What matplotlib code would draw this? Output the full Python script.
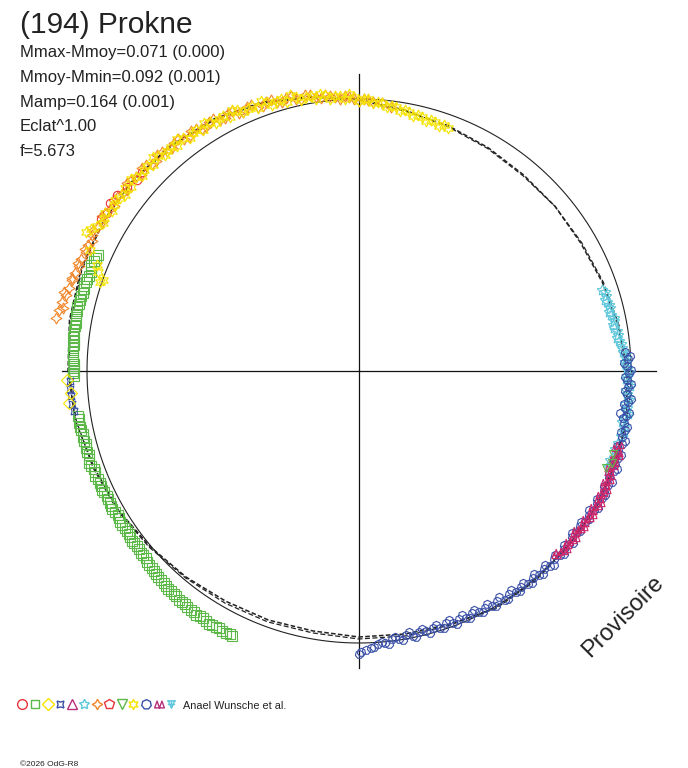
import numpy as np
import matplotlib
matplotlib.use("Agg")
import matplotlib.pyplot as plt
from matplotlib.path import Path

plt.rcParams['font.family'] = ['Liberation Sans', 'DejaVu Sans']

# ---------------- texts ----------------
TITLE = "(194) Prokne"
STATS = ["Mmax-Mmoy=0.071 (0.000)", "Mmoy-Mmin=0.092 (0.001)",
         "Mamp=0.164 (0.001)", "Eclat^1.00", "f=5.673"]
AUTHORS = "Anael Wunsche et al."
COPYRIGHT = "\u00a92026 OdG-R8"
WATERMARK = "Provisoire"

# ---------------- geometry of the polar diagram (plot units) ----------------
REF_RADIUS = 272
AXIS_ARM = 297

# ---------------- fitted curves (phase in degrees, radius) ----------------
FIT_PHASE = [0, 10, 20, 30, 40, 50, 60, 70, 80, 90, 100, 110, 120, 130, 140, 150, 160, 170,
             180, 190, 200, 210, 220, 230, 240, 250, 260, 270, 280, 290, 300, 310, 320, 330,
             340, 350, 360]
FIT_R = [271, 264, 261, 258, 256, 256, 256, 259, 263, 268, 272, 273, 273, 273, 274, 274, 269, 267,
         266, 264, 265, 266, 269, 273, 278, 282, 288, 291, 294, 296, 297, 295, 293, 290,
         285, 278, 271]
FIT2_R = [272, 265, 260, 257, 255, 256, 257, 260, 264, 268, 271, 272, 274, 272, 273, 273, 270, 269,
          268, 266, 267, 268, 270, 274, 279, 283, 287, 290, 293, 295, 296, 296, 294, 291,
          286, 279, 272]

# ---------------- observation sessions ----------------
GREEN_PHASE = [294, 292.5, 291, 289.5, 288, 286.5, 285, 283.5, 282, 280.5, 279, 277.5, 276, 274.5,
               273, 271.5, 270, 269,
               261, 259.5, 258, 256.5, 255, 253.5, 252, 250.5, 249, 247.5, 246, 244.5, 243, 241.5,
               240, 238.5, 237, 235.5, 234, 232.5, 231, 229.5, 228, 226.5, 225, 223.5, 222, 220.5,
               219, 217.5, 216, 214.5, 213, 211.5, 210, 208.5, 207, 205.5,
               293.2, 291.7, 290.2, 288.7, 287.2, 285.7, 284.2, 282.7, 281.2, 279.7, 278.2, 276.7,
               275.2, 273.7, 272.2, 270.7, 269.5,
               260.2, 258.7, 257.2, 255.7, 254.2, 252.7, 251.2, 249.7, 248.2, 246.7, 245.2, 243.7,
               242.2, 240.7, 239.2, 237.7, 236.2, 234.7, 233.2, 231.7, 230.2, 228.7, 227.2, 225.7,
               224.2, 222.7, 221.2, 219.7, 218.2, 216.7, 215.2, 213.7, 212.2, 210.7, 209.2, 207.7,
               206.2]
GREEN_R = [286, 287, 287, 286, 287, 287, 288, 288, 288, 288, 288, 287, 287, 287,
           286, 285, 285, 285,
           285, 285, 284, 284, 283, 284, 284, 284, 283, 283, 282, 282, 282, 282,
           282, 282, 282, 282, 283, 283, 283, 284, 285, 286, 287, 288, 289, 289,
           290, 291, 292, 292, 292, 293, 293, 293, 294, 294,
           286, 288, 286, 287, 288, 287, 288, 289, 288, 287, 288, 288,
           286, 287, 286, 285, 286,
           284, 285, 283, 284, 284, 283, 285, 283, 284, 282, 283, 281,
           282, 283, 281, 283, 282, 282, 284, 283, 284, 284, 286, 286,
           288, 288, 290, 290, 291, 291, 292, 293, 292, 294, 293, 294,
           293]

ASTROID_PHASE = [268, 266.5, 265, 263.5, 262]
ASTROID_R = [289, 290, 289, 289, 288]

DIAMOND_PHASE = [268.2, 265.6, 263.7]
DIAMOND_R = [292, 289, 292]

ORANGE_PHASE = [280, 281.5, 283, 284.5, 286, 287.5, 289, 290.5, 292, 293.5, 295,
                297, 299, 301, 303, 305, 307, 309, 311, 313, 315,
                317, 319, 321, 323, 325, 327, 329, 331, 333, 335,
                337, 339, 341, 343, 345, 347, 349, 351, 353, 355,
                357, 359, 1, 3, 5, 7,
                282, 285, 288, 291, 294, 296, 298, 300, 302, 304,
                306, 308, 310, 312, 314, 316, 318, 320, 322, 324,
                326, 328, 330, 332, 334, 336, 338, 340, 342, 344,
                346, 348, 350, 352, 354, 356, 358, 0, 2]
ORANGE_R = [308, 306, 305, 303, 302, 301, 300, 299, 300, 298, 299,
            300, 298, 300, 297, 299, 296, 298, 295, 297, 293,
            296, 292, 294, 290, 293, 289, 291, 287, 289, 285,
            287, 283, 285, 281, 283, 279, 281, 277, 278, 275,
            275, 272, 272, 269, 269, 266,
            303, 305, 302, 301, 300, 297, 301, 297, 299, 295,
            298, 294, 297, 293, 296, 292, 295, 291, 294, 289,
            292, 288, 291, 286, 289, 284, 287, 282, 285, 280,
            283, 278, 280, 276, 277, 273, 274, 270, 271]

RED_PHASE = [300.5, 302, 304, 306, 308.4, 310.7, 312.5]
RED_R = [299, 297.5, 300, 299.5, 296.5, 293, 295]

YELLOW_PHASE = [297, 299, 300, 302, 303, 305, 306, 308, 309, 311, 312,
                314, 315, 317, 318, 320, 321, 323, 324, 326, 327,
                329, 330, 332, 333, 335, 336, 338, 339, 341, 342,
                344, 345, 347, 348, 350, 351, 353, 354, 356, 357,
                359, 0, 2, 3, 5, 6, 8, 9, 11, 12,
                14, 15, 17, 18, 20,
                294.2, 292, 290.8, 289.6, 289,
                298, 301, 304, 307, 310, 313, 316, 319, 322, 325,
                328, 331, 334, 337, 340, 343, 346, 349, 352, 355,
                358, 1, 4, 7, 10, 13, 16, 19]
YELLOW_R = [306, 300, 296, 299, 294, 298, 295, 297, 293, 296, 292,
            295, 291, 294, 290, 293, 289, 292, 288, 291, 287,
            290, 286, 289, 285, 288, 284, 286, 282, 284, 280,
            283, 279, 281, 277, 279, 275, 278, 274, 276, 272,
            274, 270, 272, 268, 269, 265, 267, 263, 264, 261,
            262, 259, 260, 258, 259,
            295, 283, 279, 272, 274,
            303, 298, 296, 293, 298, 294, 297, 292, 295, 290,
            292, 288, 290, 285, 287, 282, 284, 279, 280, 276,
            277, 272, 270, 267, 265, 263, 261, 260]

CYAN_PHASE = [71.5, 73, 74.5, 76, 77.5, 79, 80.5, 82, 83.5, 85, 86.5, 88, 89.5, 91, 92.5,
              94, 95.5, 97, 98.5, 100, 102, 104, 107, 109.5, 111,
              72.2, 73.8, 75.2, 76.8, 78.2, 79.8, 81.2, 82.8, 84.2, 85.8, 87.2, 88.8,
              90.2, 91.8, 93.2, 94.8, 96.2, 97.8, 99.2, 101, 103, 105.5, 108, 110.5]
CYAN_R = [256, 258, 257, 259, 258, 260, 259, 262, 262, 264, 266, 266, 268, 268, 269,
          268, 270, 268, 270, 269, 271, 270, 268, 266, 268,
          258, 256, 259, 257, 260, 258, 261, 260, 263, 265, 267, 267,
          270, 267, 271, 269, 272, 271, 272, 268, 272, 269, 271, 269]

BLUE_PHASE = [86, 87.5, 89, 90.5, 92, 93.5, 95, 96.5, 98, 99.5,
              101, 102.5, 104, 105.5, 107, 108.5, 110, 111.5, 113, 114.5,
              116, 117.5, 119, 120.5, 122, 123.5, 125, 126.5, 128, 129.5,
              131, 132.5, 134, 135.5, 137, 138.5, 140, 141.5, 143, 144.5,
              146, 147.5, 149, 150.5, 152, 153.5, 155, 156.5, 158, 159.5,
              161, 162.5, 164, 165.5, 167, 168.5, 170, 171.5, 173, 174.5,
              176, 177.5, 178.5, 179.5, 180, 99.1,
              86.8, 88.2, 89.8, 91.2, 92.8, 94.2, 95.8, 97.2, 98.8, 100.2,
              101.8, 103.2, 104.8, 106.2, 107.8, 109.2, 110.8, 112.2, 113.8, 115.2,
              116.8, 118.2, 119.8, 121.2, 122.8, 124.2, 125.8, 127.2, 128.8, 130.2,
              131.8, 133.2, 134.8, 136.2, 137.8, 139.2, 140.8, 142.2, 143.8, 145.2,
              146.8, 148.2, 149.8, 151.2, 152.8, 154.2, 155.8, 157.2, 158.8, 160.2,
              161.8, 163.2, 164.8, 166.2, 167.8, 169.2, 170.8, 172.2, 173.8, 175.2,
              176.8]
BLUE_R = [267, 269, 268, 270, 268, 270, 269, 271, 269, 271,
          270, 272, 271, 273, 271, 273, 272, 274, 272, 274,
          273, 274, 272, 273, 271, 272, 270, 271, 270, 272,
          271, 273, 271, 273, 271, 272, 270, 272, 270, 271,
          269, 271, 268, 270, 268, 269, 267, 269, 267, 269,
          267, 269, 267, 269, 268, 270, 268, 271, 270, 273,
          274, 277, 279, 281, 283, 264,
          271, 265, 272, 266, 272, 267, 273, 267, 273, 268,
          274, 269, 275, 269, 275, 270, 276, 270, 276, 271,
          276, 270, 275, 269, 274, 268, 273, 268, 274, 269,
          275, 269, 275, 269, 274, 268, 274, 268, 273, 267,
          273, 266, 272, 266, 271, 265, 271, 265, 271, 265,
          271, 265, 271, 266, 272, 266, 273, 268, 275, 272,
          276]

MAGENTA_PHASE = [106, 107.5, 109, 110.5, 112, 113.5, 115, 116.5, 118, 119.5,
                 121, 122.5, 124, 125.5, 127, 128.5, 130, 131.5, 133,
                 106.8, 108.2, 109.8, 111.2, 112.8, 114.2, 115.8, 117.2, 118.8,
                 120.2, 121.8, 123.2, 124.8, 126.2, 127.8, 129.2, 130.8, 132.2]
MAGENTA_R = [270, 272, 269, 271, 270, 273, 271, 273, 272, 274,
             272, 273, 271, 272, 270, 272, 271, 272, 270,
             268, 273, 271, 268, 272, 270, 274, 271, 275,
             271, 274, 270, 273, 269, 273, 270, 273, 269]

GTRI_PHASE = [108, 110, 111.5]
GTRI_R = [267, 269, 266]

# ---------------- colours / markers ----------------
RED = '#E8343C'
GREEN = '#5CB848'
YELLOW = '#F5E400'
BLUE = '#3A50A8'
MAGENTA = '#B8307C'
CYAN = '#60C8DC'
ORANGE = '#F0862A'
CRIMSON = '#D02468'
INK = '#222222'

dtri = Path([(-1, -0.7), (-0.5, 0.7), (0, -0.7), (-1, -0.7),
             (0, -0.7), (0.5, 0.7), (1, -0.7), (0, -0.7)],
            [Path.MOVETO, Path.LINETO, Path.LINETO, Path.CLOSEPOLY,
             Path.MOVETO, Path.LINETO, Path.LINETO, Path.CLOSEPOLY])
anchor = Path([(-1, 0.8), (1, 0.8), (-0.7, 0.8), (0, -0.8), (0.7, 0.8),
               (-0.8, 0.0), (0.8, 0.0), (0, 0.8), (0, -0.8)],
              [Path.MOVETO, Path.LINETO, Path.MOVETO, Path.LINETO, Path.LINETO,
               Path.MOVETO, Path.LINETO, Path.MOVETO, Path.LINETO])

LEGEND_MARKERS = ['o', 's', 'D', (4, 1, 45), '^', (5, 1, 0), (4, 1, 0), 'p', 'v',
                  (6, 1, 0), (7, 0, 0), dtri, anchor]
LEGEND_COLORS = [RED, GREEN, YELLOW, BLUE, MAGENTA, CYAN, ORANGE, RED, GREEN,
                 YELLOW, BLUE, MAGENTA, CYAN]
LEGEND_X = [22, 35, 48, 60, 72, 84, 97, 109, 122, 133, 146, 159, 171]
LEGEND_SIZES = [7, 5.5, 6, 7, 6.5, 7.5, 7.5, 7, 6.5, 7.5, 7, 7, 6.5]

# ---------------- figure ----------------
W, H = 688, 768
fig = plt.figure(figsize=(W / 100, H / 100), dpi=100)
fig.patch.set_facecolor('white')

cx, cy = 359, 371
ax = fig.add_axes([(cx - AXIS_ARM) / W, (H - cy - AXIS_ARM) / H,
                   2 * AXIS_ARM / W, 2 * AXIS_ARM / H], projection='polar')
ax.set_theta_zero_location('N')
ax.set_theta_direction(-1)
ax.set_ylim(0, AXIS_ARM)
ax.set_axis_off()

# cross
for a in (0, 90, 180, 270):
    ax.plot(np.radians([a, a]), [0, AXIS_ARM], color='#111111', lw=0.9, zorder=1,
            clip_on=False)
# reference circle
tt = np.linspace(0, 2 * np.pi, 721)
ax.plot(tt, np.full_like(tt, REF_RADIUS), color=INK, lw=0.8, zorder=1)

# fitted curves
ax.plot(np.radians(FIT_PHASE), FIT_R, color=INK, lw=1.1, ls=(0, (3, 1.5)), zorder=1.5)
ax.plot(np.radians(FIT_PHASE), FIT2_R, color=INK, lw=0.9, ls=(0, (4, 2)), zorder=1.5)


def sess(ph, r, marker, color, ms, z=2, mew=0.8):
    ax.plot(np.radians(ph), r, ls='none', marker=marker, ms=ms, mfc='none',
            mec=color, mew=mew, zorder=z, clip_on=False)


sess(GREEN_PHASE, GREEN_R, 's', GREEN, 6.5)
sess(ASTROID_PHASE, ASTROID_R, (4, 1, 45), BLUE, 7)
sess(DIAMOND_PHASE, DIAMOND_R, 'D', YELLOW, 6)
sess(ORANGE_PHASE, ORANGE_R, (4, 1, 0), ORANGE, 8)
sess(RED_PHASE, RED_R, 'o', RED, 6)
sess(YELLOW_PHASE, YELLOW_R, (6, 1, 0), YELLOW, 8)
sess(CYAN_PHASE, CYAN_R, (5, 1, 0), CYAN, 8)
sess(BLUE_PHASE, BLUE_R, (7, 0, 0), BLUE, 6)
sess(MAGENTA_PHASE, MAGENTA_R, dtri, CRIMSON, 6.5)
sess(GTRI_PHASE, GTRI_R, 'v', GREEN, 5.5)

# legend strip (pixel coordinates)
lg = fig.add_axes([0, 0, 1, 1], facecolor='none')
lg.set_xlim(0, W)
lg.set_ylim(H, 0)
lg.set_axis_off()
for x, m, c, s in zip(LEGEND_X, LEGEND_MARKERS, LEGEND_COLORS, LEGEND_SIZES):
    lg.plot([x], [704], ls='none', marker=m, ms=s, mfc='none', mec=c, mew=1.0)

# texts
fig.text(20 / W, 1 - 33 / H, TITLE, fontsize=21.5, color=INK, va='baseline', ha='left')
for i, s in enumerate(STATS):
    fig.text(20 / W, 1 - (57.5 + 24.5 * i) / H, s, fontsize=12, color=INK,
             va='baseline', ha='left')
fig.text(183 / W, 1 - 709 / H, AUTHORS, fontsize=7.8, color=INK, va='baseline', ha='left')
fig.text(20 / W, 1 - 766 / H, COPYRIGHT, fontsize=6, color=INK, va='baseline', ha='left')
fig.text(623 / W, 1 - 617 / H, WATERMARK, fontsize=17, color=INK, rotation=45,
         ha='center', va='center', rotation_mode='anchor')

fig.savefig('out.png', dpi=100, facecolor='white')
